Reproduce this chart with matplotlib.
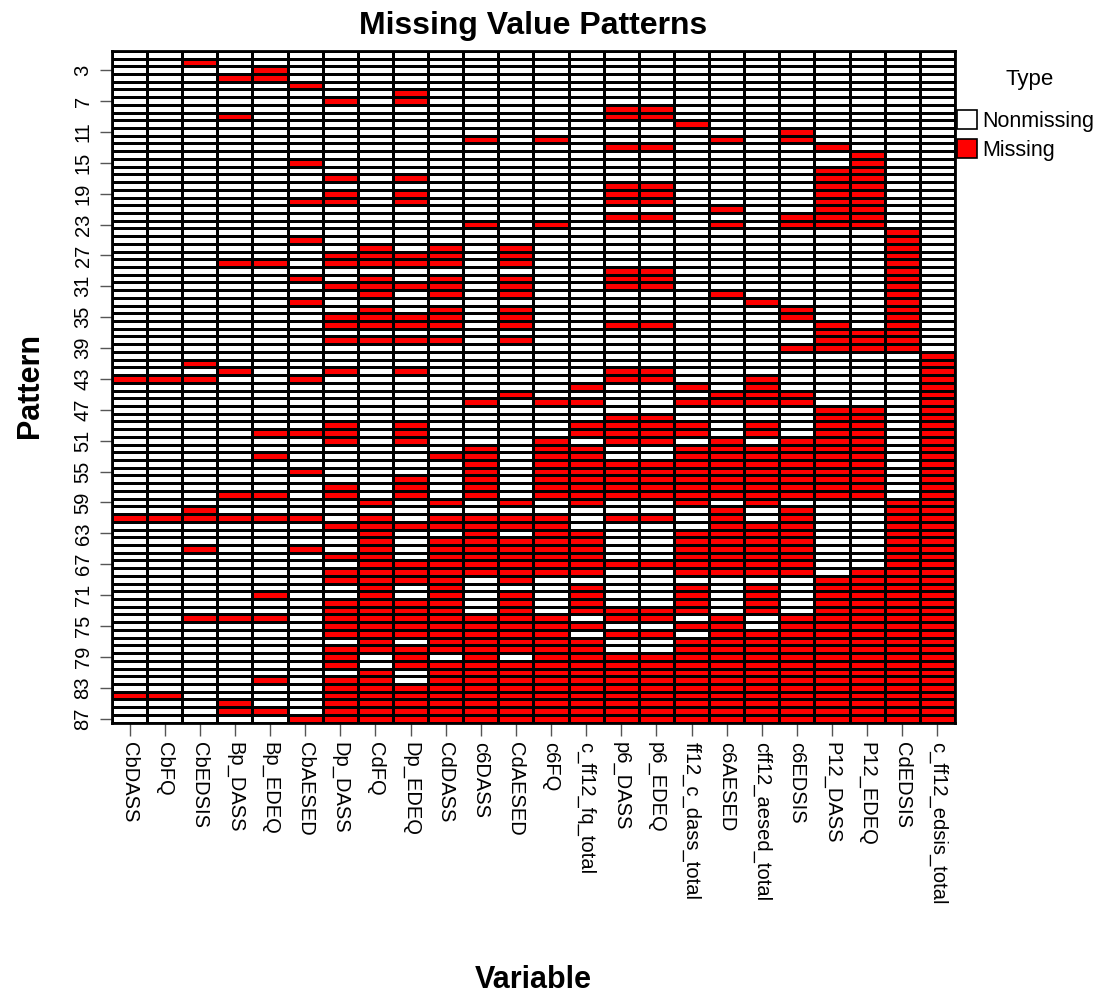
import numpy as np
import matplotlib
matplotlib.use("Agg")
import matplotlib.pyplot as plt
from matplotlib.colors import ListedColormap
from matplotlib.patches import Patch

plt.rcParams['font.family'] = ['Liberation Sans', 'DejaVu Sans']

variables = ["CbDASS", "CbFQ", "CbEDSIS", "Bp_DASS", "Bp_EDEQ", "CbAESED",
             "Dp_DASS", "CdFQ", "Dp_EDEQ", "CdDASS", "c6DASS", "CdAESED",
             "c6FQ", "c_ff12_fq_total", "p6_DASS", "p6_EDEQ", "ff12_c_dass_total", "c6AESED",
             "cff12_aesed_total", "c6EDSIS", "P12_DASS", "P12_EDEQ", "CdEDSIS", "c_ff12_edsis_total"]

pattern_ticks = [3, 7, 11, 15, 19, 23, 27, 31, 35, 39, 43, 47, 51, 55, 59, 63, 67, 71, 75, 79, 83, 87]

type_labels = ["Nonmissing", "Missing"]
type_colors = ["#ffffff", "#ff0000"]

# 1 = missing, 0 = nonmissing; one string per pattern (columns in the order of `variables`)
missing_patterns = [
    "000000 000000 000000 000000",  # 1
    "001000 000000 000000 000000",
    "000010 000000 000000 000000",
    "000110 000000 000000 000000",
    "000001 000000 000000 000000",  # 5
    "000000 001000 000000 000000",
    "000000 101000 000000 000000",
    "000000 000000 001100 000000",
    "000100 000000 001100 000000",
    "000000 000000 000010 000000",  # 10
    "000000 000000 000000 010000",
    "000000 000010 100001 010000",
    "000000 000000 001100 001000",
    "000000 000000 000000 000100",
    "000001 000000 000000 000100",  # 15
    "000000 000000 000000 001100",
    "000000 101000 000000 001100",
    "000000 000000 001100 001100",
    "000000 101000 001100 001100",
    "000001 101000 001100 001100",  # 20
    "000000 000000 000001 001100",
    "000000 000000 001100 011100",
    "000000 000010 100001 011100",
    "000000 000000 000000 000010",
    "000001 000000 000000 000010",  # 25
    "000000 010101 000000 000010",
    "000000 111101 000000 000010",
    "000110 111101 000000 000010",
    "000000 000000 001100 000010",
    "000001 010101 001100 000010",  # 30
    "000000 111101 001100 000010",
    "000000 010101 000001 000010",
    "000001 000000 000000 100010",
    "000000 010101 000000 010010",
    "000000 111101 000000 010010",  # 35
    "000000 111101 001100 001010",
    "000000 000000 000000 001110",
    "000000 111101 000000 001110",
    "000000 000000 000000 011110",
    "000000 000000 000000 000001",  # 40
    "001000 000000 000000 000001",
    "000100 101000 001100 000001",
    "111001 000000 001100 100001",
    "000000 000000 010010 100001",
    "000000 000001 000001 110001",  # 45
    "000000 000010 110011 110001",
    "000000 000000 000000 001101",
    "000000 000000 001100 001101",
    "000000 101000 011110 101101",
    "000011 101000 011110 101101",  # 50
    "000000 101000 101101 011101",
    "000000 000010 110011 111101",
    "000010 000110 110011 111101",
    "000000 000010 111111 111101",
    "000001 000010 111111 111101",  # 55
    "000000 001010 111111 111101",
    "000000 101010 111111 111101",
    "000110 101010 111111 111101",
    "000000 010101 010010 100011",
    "001000 000000 000001 010011",  # 60
    "111111 010111 101101 010011",
    "000000 111111 100001 110011",
    "000000 010010 110011 110011",
    "000000 010111 110011 110011",
    "001001 010111 110011 110011",  # 65
    "000000 110111 110011 110011",
    "000000 011111 111111 110011",
    "000000 111111 110011 110111",
    "000000 111101 000000 001111",
    "000000 010100 010010 101111",  # 70
    "000010 010101 010010 101111",
    "000000 111101 010010 101111",
    "000000 111101 011110 101111",
    "001110 111111 101101 011111",
    "000000 111111 110011 011111",  # 75
    "000000 111111 101101 111111",
    "000000 010111 110011 111111",
    "000000 111111 110011 111111",
    "000000 101010 111111 111111",
    "000000 101111 111111 111111",  # 80
    "000000 010111 111111 111111",
    "000010 110111 111111 111111",
    "000000 111111 111111 111111",
    "110000 111111 111111 111111",
    "000100 111111 111111 111111",  # 85
    "000110 111111 111111 111111",
    "000001 111111 111111 111111",  # 87
]

matrix = np.array([[int(c) for c in row.replace(" ", "")] for row in missing_patterns])
n_pat, n_var = matrix.shape

fig = plt.figure(figsize=(11.04, 9.98), dpi=100)
ax = fig.add_axes([0.1014, 0.276, 0.7636, 0.6731])

x_edges = np.arange(n_var + 1) + 0.5
y_edges = np.arange(n_pat + 1) + 0.5
ax.pcolormesh(x_edges, y_edges, matrix, cmap=ListedColormap(type_colors),
              vmin=0, vmax=1, edgecolors="black", linewidth=0.8)
ax.set_xlim(0.5, n_var + 0.5)
ax.set_ylim(n_pat + 0.5, 0.5)

ax.set_xticks(np.arange(1, n_var + 1))
ax.set_xticklabels(variables, rotation=-90, fontsize=14.5, va="top", ha="center")
ax.set_yticks(pattern_ticks)
ax.set_yticklabels([str(t) for t in pattern_ticks], rotation=90, fontsize=14.5, va="center")
ax.tick_params(axis="both", length=9, width=1, color="#555555", pad=5)

for s in ax.spines.values():
    s.set_linewidth(2)

ax.set_title("Missing Value Patterns", fontsize=23, fontweight="bold", pad=12)
ax.set_xlabel("Variable", fontsize=22, fontweight="bold")
ax.xaxis.set_label_coords(0.5, -0.383)
ax.xaxis.label.set_va("center")
ax.set_ylabel("Pattern", fontsize=22, fontweight="bold")
ax.yaxis.set_label_coords(-0.097, 0.502)
ax.yaxis.label.set_va("center")

fig.text(1030 / 1104, 1 - 80 / 998, "Type", fontsize=16, ha="center", va="center")
handles = [Patch(facecolor=c, edgecolor="black", linewidth=1.2) for c in type_colors]
leg = fig.legend(handles, type_labels, loc="upper left",
                 bbox_to_anchor=(957 / 1104, 1 - 110 / 998), frameon=False,
                 fontsize=15.5, borderpad=0, handlelength=0.95,
                 handleheight=0.95, handletextpad=0.2, labelspacing=0.35, borderaxespad=0)

fig.savefig("out.png", dpi=100)
